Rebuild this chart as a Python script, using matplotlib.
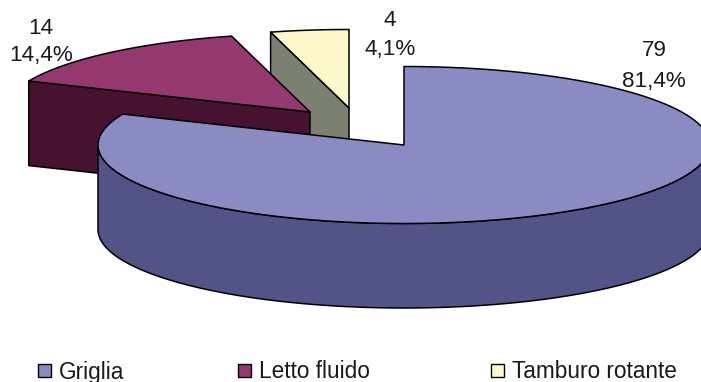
import numpy as np
import matplotlib
matplotlib.use("Agg")
import matplotlib.pyplot as plt
from matplotlib.patches import Polygon, Rectangle

plt.rcParams["font.family"] = ["Liberation Sans", "DejaVu Sans"]

# Data
categories = ["Griglia", "Letto fluido", "Tamburo rotante"]
values = [79, 14, 4]
percent_labels = ["81,4%", "14,4%", "4,1%"]

# Styles
top_colors = ["#8B8BC3", "#953870", "#FBF9CA"]
side_colors = ["#525488", "#47122F", "#7C8070"]

# Pie centre of each slice, in pixels (slices are pulled apart)
centers = [(404, 145), (310, 112), (349, 108)]
value_pos = [(654, 51), (41, 29), (390, 20)]
percent_pos = [(654, 81), (41, 56), (390, 50)]
legend_x = [38, 238, 491]
draw_order = [2, 1, 0]
rx = 306
ry = 78.5
depth = 84.5

W, H = 701, 382
fig = plt.figure(figsize=(W / 100, H / 100), dpi=100)
ax = fig.add_axes([0, 0, 1, 1])
ax.set_xlim(0, W)
ax.set_ylim(H, 0)
ax.axis("off")


def rim(cx, cy, a0, a1, n=200):
    # angles clockwise from 12 o'clock, in degrees
    a = np.radians(np.linspace(a0, a1, n))
    return np.column_stack([cx + rx * np.sin(a), cy - ry * np.cos(a)])


def draw_slice(i, a0, a1, z):
    cx, cy = centers[i]
    r = rim(cx, cy, a0, a1)
    down = np.array([0, depth])
    edge = dict(edgecolor="black", linewidth=1.1, joinstyle="round", zorder=z)

    # radial wall at the start of the slice, seen on the two upper slices
    if i > 0:
        wall = [r[0], (cx, cy), (cx, cy + depth), r[0] + down]
        ax.add_patch(Polygon(wall, facecolor=side_colors[i], **edge))
    # outer wall, only the part that faces the viewer (90 to 270 degrees)
    lo, hi = max(a0, 90), min(a1, 270)
    if lo < hi:
        outer = rim(cx, cy, lo, hi)
        ax.add_patch(Polygon(np.vstack([outer, (outer + down)[::-1]]),
                             facecolor=side_colors[i], **edge))
    # top
    ax.add_patch(Polygon(np.vstack([[(cx, cy)], r]), facecolor=top_colors[i], **edge))


angles = np.cumsum([0] + values) / sum(values) * 360
for z, i in enumerate(draw_order):
    draw_slice(i, angles[i], angles[i + 1], z + 1)

# Data labels
for i in range(len(values)):
    ax.text(*value_pos[i], str(values[i]), fontsize=16.2, ha="center", va="center",
            color="#1a1a1a", zorder=40)
    ax.text(*percent_pos[i], percent_labels[i], fontsize=16.2, ha="center", va="center",
            color="#1a1a1a", zorder=40)

# Legend
for i, name in enumerate(categories):
    ax.add_patch(Rectangle((legend_x[i], 364), 13, 13, facecolor=top_colors[i],
                           edgecolor="black", linewidth=1.0, zorder=40))
    ax.text(legend_x[i] + 21, 372, name, fontsize=16.3, ha="left", va="center",
            color="#1a1a1a", zorder=40)

fig.savefig("out.png", dpi=100)
